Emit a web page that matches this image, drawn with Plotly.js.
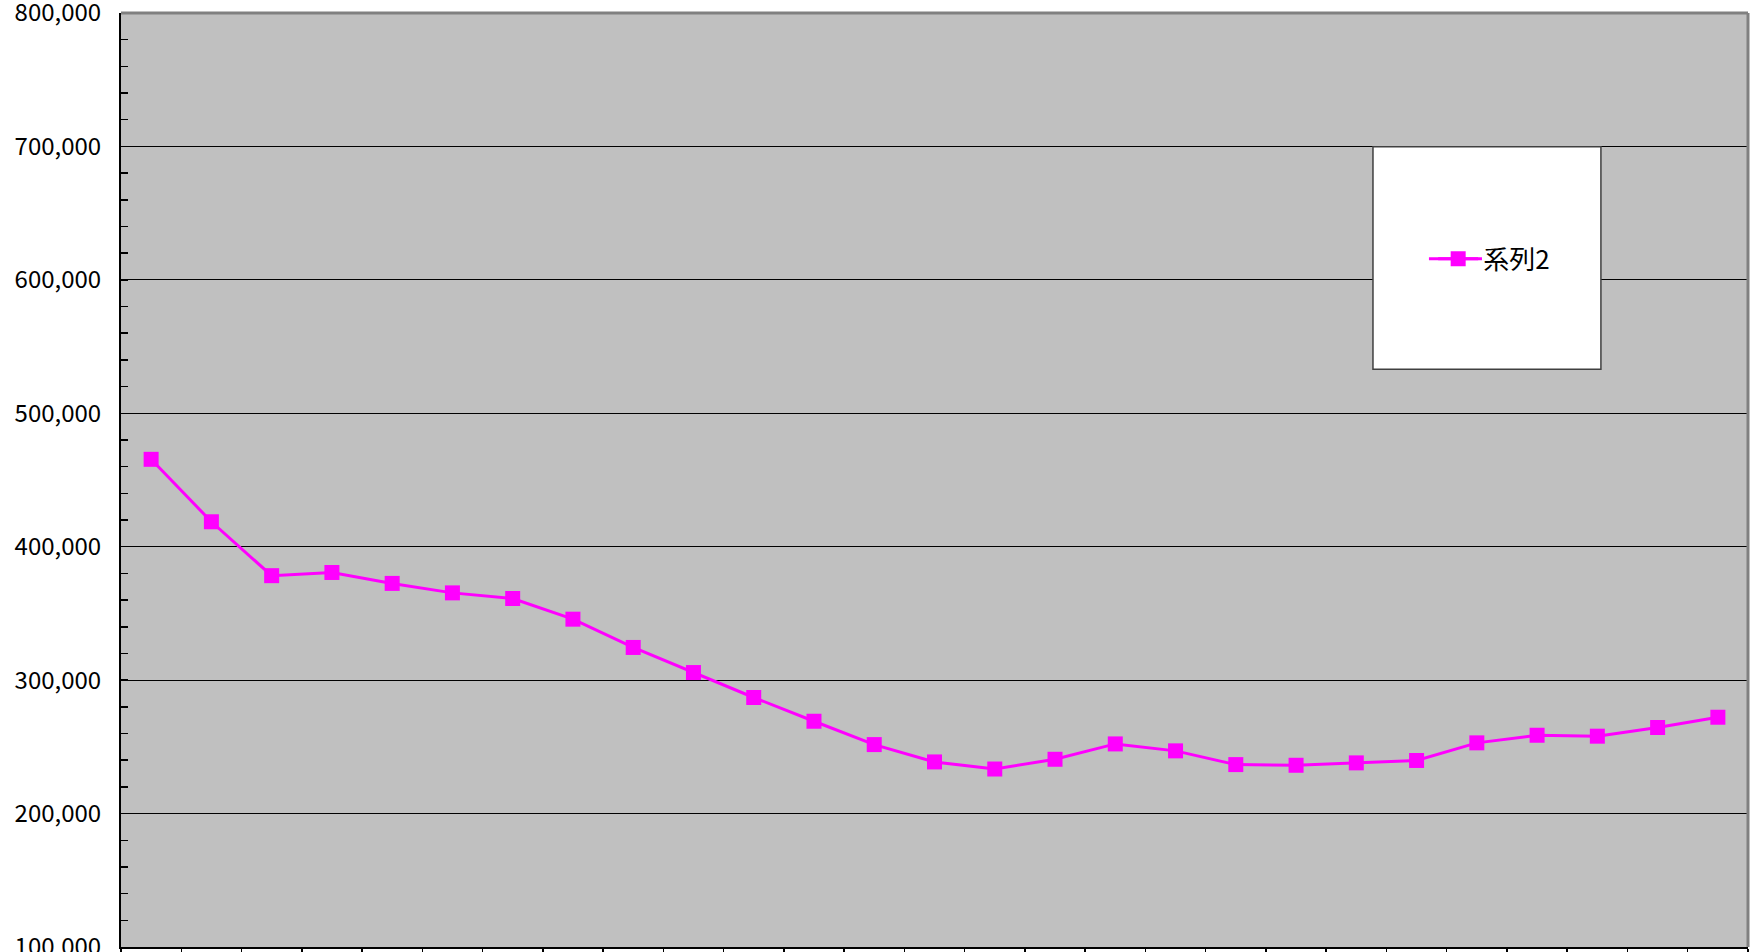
<!DOCTYPE html>
<html>
<head>
<meta charset="utf-8">
<script src="https://cdn.plot.ly/plotly-3.0.1.min.js"></script>
<style>
html,body{margin:0;padding:0;background:#fff;}
#chart{width:1754px;height:952px;}
</style>
</head>
<body>
<div id="chart"></div>
<script>
const categories = ["1","2","3","4","5","6","7","8","9","10","11","12","13","14","15","16","17","18","19","20","21","22","23","24","25","26","27"];
const series2 = [465500, 418700, 378300, 380700, 372500, 365400, 361200, 345700, 324500, 305700, 287000, 269200, 251700, 238700, 233400, 240700, 252200, 247000, 236700, 236200, 238000, 239800, 253000, 258700, 258000, 264500, 272200];
const seriesName = "系列2";
const yTickVals = [100000, 200000, 300000, 400000, 500000, 600000, 700000, 800000];

const fontFamily = '"Noto Sans CJK JP", "Noto Sans", sans-serif';

const trace = {
  type: 'scatter',
  mode: 'lines+markers',
  x: categories,
  y: series2,
  name: seriesName,
  showlegend: true,
  line: {color: '#FF00FF', width: 3},
  marker: {symbol: 'square', size: 15, color: '#FF00FF'}
};

const layout = {
  width: 1754,
  height: 952,
  margin: {l: 121, r: 6, t: 13, b: 5, pad: 0},
  paper_bgcolor: '#FFFFFF',
  plot_bgcolor: '#C0C0C0',
  font: {family: fontFamily, size: 22, color: '#000'},
  showlegend: true,
  legend: {
    x: 0.8065, xanchor: 'left',
    y: 0.7368, yanchor: 'middle',
    bgcolor: 'rgba(0,0,0,0)',
    borderwidth: 0,
    itemwidth: 40,
    font: {family: fontFamily, size: 26, color: '#000'}
  },
  xaxis: {
    type: 'category',
    range: [-0.5, categories.length - 0.5],
    showticklabels: false,
    tickson: 'boundaries',
    ticks: 'outside',
    ticklen: 6,
    tickwidth: 1.5,
    tickcolor: '#000',
    showgrid: false,
    showline: true,
    linecolor: '#000',
    linewidth: 2,
    zeroline: false,
    fixedrange: true
  },
  yaxis: {
    range: [100000, 800000],
    tickvals: yTickVals,
    tickformat: ',d',
    ticks: 'inside',
    ticklen: 7,
    tickcolor: '#000',
    tickwidth: 1.5,
    ticklabelstandoff: 13,
    ticklabeloverflow: 'allow',
    showgrid: true,
    gridcolor: '#000',
    gridwidth: 1,
    showline: true,
    linecolor: '#000',
    linewidth: 2,
    zeroline: false,
    tickfont: {family: fontFamily, size: 24, color: '#000'},
    minor: {dtick: 20000, ticks: 'inside', ticklen: 7, tickcolor: '#000', tickwidth: 1.5, showgrid: false},
    fixedrange: true
  },
  shapes: [
    {type: 'line', xref: 'paper', yref: 'paper', x0: 0, x1: 1, y0: 1, y1: 1, line: {color: '#808080', width: 3}, layer: 'above'},
    {type: 'line', xref: 'paper', yref: 'paper', x0: 1, x1: 1, y0: 0, y1: 1, line: {color: '#808080', width: 3}, layer: 'above'},
    {type: 'rect', xref: 'paper', yref: 'paper', x0: 0.7695, x1: 0.9096, y0: 0.6187, y1: 0.8567, fillcolor: '#FFFFFF', line: {color: '#404040', width: 1.5}, layer: 'above'},
    {type: 'line', xref: 'paper', yref: 'paper', x0: 0.8039, x1: 0.8365, y0: 0.7368, y1: 0.7368, line: {color: '#FF00FF', width: 3}, layer: 'above'}
  ]
};

Plotly.newPlot('chart', [trace], layout, {displayModeBar: false, staticPlot: true});
</script>
</body>
</html>
